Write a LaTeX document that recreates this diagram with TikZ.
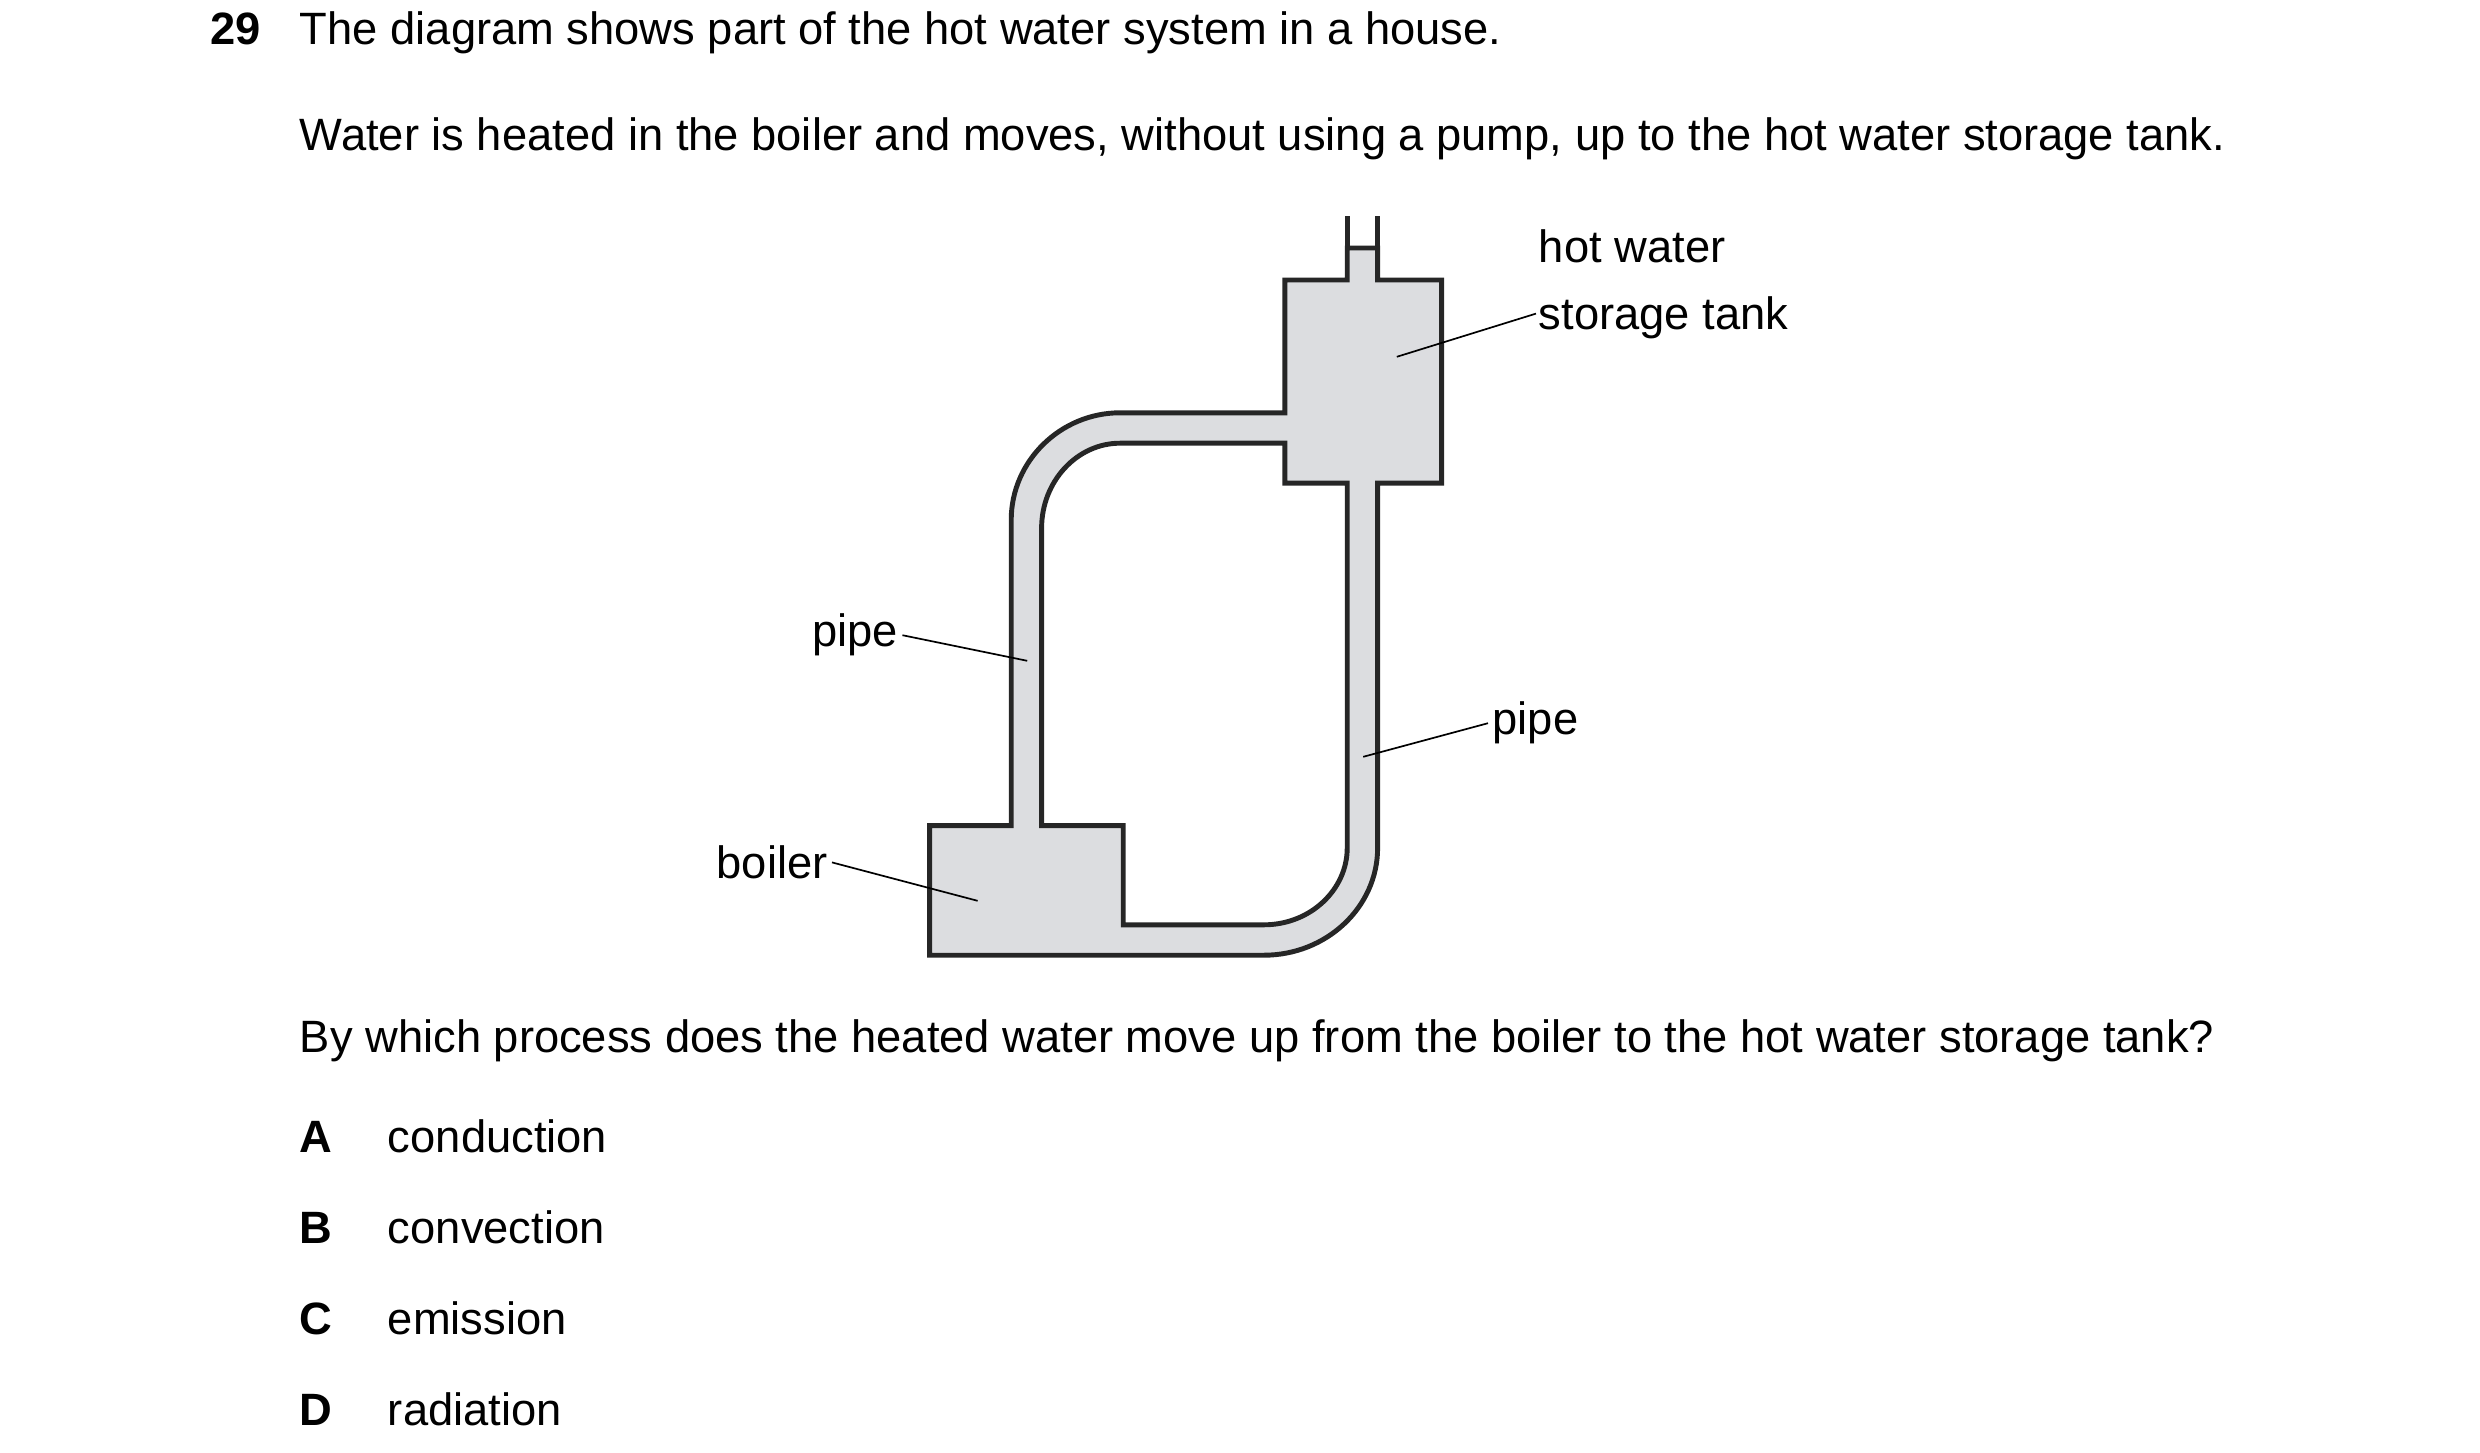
\documentclass[tikz,border=0pt]{standalone}
\usepackage{fontspec}
\setmainfont{Liberation Sans}
\usetikzlibrary{positioning}
\definecolor{waterGrey}{HTML}{DCDDE0}
\tikzset{
  txt/.style={anchor=base west, inner sep=0pt, font=\fontsize{12}{14}\selectfont},
  lbl/.style={inner sep=1pt, font=\fontsize{12}{14}\selectfont},
  leader/.style={line width=0.45pt},
  wall/.style={line width=1.3pt, draw=black!85}
}
\begin{document}
\begin{tikzpicture}[x=0.0149cm, y=-0.0149cm]
\useasboundingbox (0,0) rectangle (1550,908);
% question text
\node (qnum) [txt, font=\fontsize{12}{14}\selectfont\bfseries] at (131,28) {29};
\node (q1) [txt] at (187,28) {The diagram shows part of the hot water system in a house.};
\node (q2) [txt] at (187,94) {Water is heated in the boiler and moves, without using a pump, up to the hot water storage tank.};
\node (q3) [txt] at (187,658) {By which process does the heated water move up from the boiler to the hot water storage tank?};
\foreach \key/\ans/\yy in {A/conduction/720, B/convection/777, C/emission/834, D/radiation/891}{
  \node (key\key) [txt, font=\fontsize{12}{14}\selectfont\bfseries] at (187,\yy) {\key};
  \node (ans\key) [txt] at (242,\yy) {\ans};
}
% pipes, boiler and tank
\path[wall, fill=waterGrey, even odd rule]
  (581,597) -- (790,597) .. controls (829,597) and (861,567) .. (861,530)
  -- (861,302) -- (901,302) -- (901,175) -- (861,175) -- (861,155) -- (842,155)
  -- (842,175) -- (803,175) -- (803,258) -- (700,258)
  .. controls (663,258) and (632,288) .. (632,325) -- (632,516) -- (581,516) -- cycle
  (651,516) -- (651,330) .. controls (651,301) and (673,277) .. (700,277)
  -- (803,277) -- (803,302) -- (842,302) -- (842,530)
  .. controls (842,556) and (819,578) .. (790,578) -- (702,578) -- (702,516) -- cycle;
\draw[wall] (842,155) -- (842,135) (861,155) -- (861,135);
% labels
\node (tankLbl) [lbl, anchor=north west, align=left, font=\fontsize{12}{17.5}\selectfont] at (959,141) {hot water\\storage tank};
\node (pipeL) [lbl, anchor=east] at (564,397) {pipe};
\node (pipeR) [lbl, anchor=west] at (930,452) {pipe};
\node (boilerLbl) [lbl, anchor=east] at (520,539) {boiler};
\coordinate (tankPt) at (873,223);
\coordinate (pipeLPt) at (642,413);
\coordinate (pipeRPt) at (852,473);
\coordinate (boilerPt) at (611,563);
\draw[leader] (960,196) -- (tankPt);
\draw[leader] (pipeL.east) -- (pipeLPt);
\draw[leader] (pipeR.west) -- (pipeRPt);
\draw[leader] (boilerLbl.east) -- (boilerPt);
\end{tikzpicture}
\end{document}
